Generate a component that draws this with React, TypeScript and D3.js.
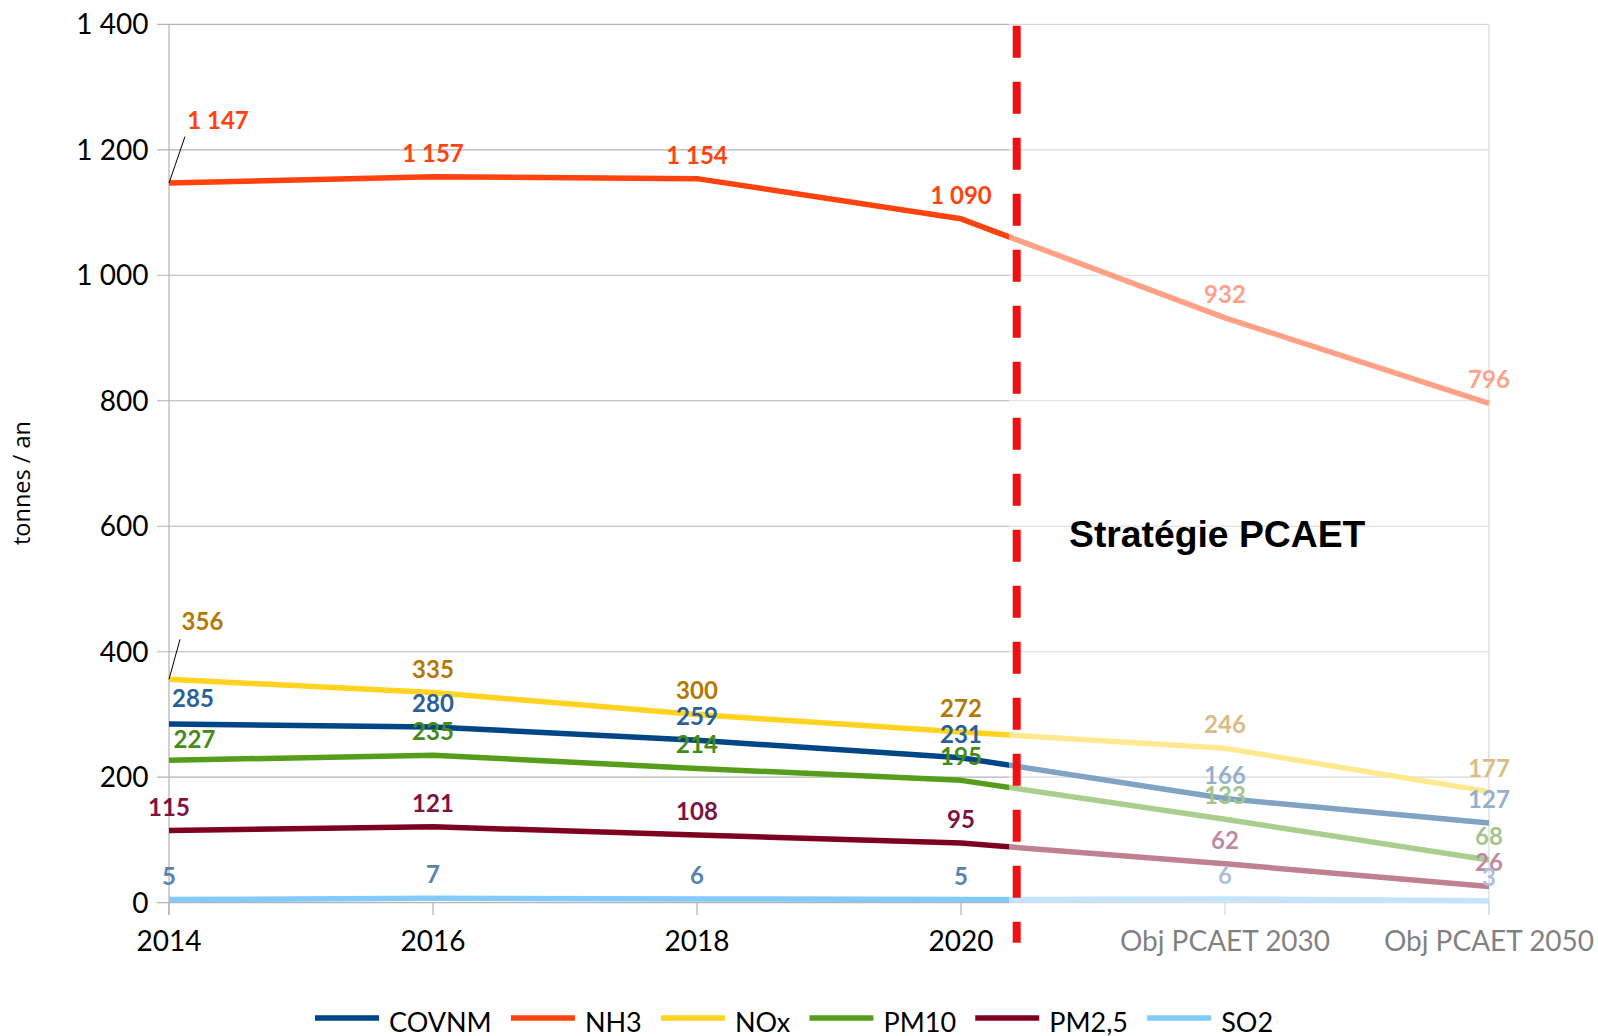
import React from "react";
import * as d3 from "d3";

const categories = ["2014", "2016", "2018", "2020", "Obj PCAET 2030", "Obj PCAET 2050"];
const seriesNames = ["COVNM", "NH3", "NOx", "PM10", "PM2,5", "SO2"];
const covnm = [285, 280, 259, 231, 166, 127];
const nh3 = [1147, 1157, 1154, 1090, 932, 796];
const nox = [356, 335, 300, 272, 246, 177];
const pm10 = [227, 235, 214, 195, 133, 68];
const pm25 = [115, 121, 108, 95, 62, 26];
const so2 = [5, 7, 6, 5, 6, 3];
const yTicks = [0, 200, 400, 600, 800, 1000, 1200, 1400];
const yTitle = "tonnes / an";
const strategyText = "Stratégie PCAET";

const allSeries = [covnm, nh3, nox, pm10, pm25, so2];

const W = 1598;
const H = 1036;
const lineColors = ["#004586", "#ff420e", "#ffd320", "#579d1c", "#7e0021", "#83caff"];
const labelColors = ["#2a6099", "#ff420e", "#b47804", "#468a1a", "#7e1240", "#5983b0"];
const gridColor = "#b3b3b3";
const lato = "Lato, 'Noto Sans', sans-serif";

// label placement adjustments (style, not data)
const labelAdjust: Record<string, { dx: number; dy: number; leader?: [number, number] }> = {
  "1-0": { dx: 49, dy: -54.5, leader: [16, -46.5] },
  "2-0": { dx: 33.5, dy: -49.3, leader: [11, -40] },
  "0-0": { dx: 24, dy: -16.6 },
  "3-0": { dx: 25.5, dy: -12 },
};

const fmt = d3.formatLocale({ decimal: ",", thousands: " ", grouping: [3], currency: ["", ""] }).format(",d");

function measure(text: string, font: string): number {
  const c = document.createElement("canvas").getContext("2d");
  if (!c) return text.length * 14;
  c.font = font;
  return c.measureText(text).width;
}

export default function App() {
  const x = d3.scalePoint<string>().domain(categories).range([169, 1489]);
  const y = d3.scaleLinear().domain([0, 1400]).range([902.7, 24.3]);
  const line = d3
    .line<number>()
    .x((_, i) => x(categories[i]) as number)
    .y((d) => y(d));

  const overlayX = 1009;
  const dashX = 1016.7;

  // legend layout
  const legendFont = `27px Lato`;
  let lx = 315;
  const legendItems = seriesNames.map((name, i) => {
    const item = { name, i, x: lx };
    lx += 64 + 10 + measure(name, legendFont) + 19.2;
    return item;
  });

  return (
    <svg
      width={W}
      height={H}
      style={{ position: "absolute", left: 0, top: 0, background: "#fff" }}
      xmlns="http://www.w3.org/2000/svg"
    >
      <rect x={0} y={0} width={W} height={H} fill="#fff" />
      {/* gridlines */}
      {yTicks.map((t) => (
        <line key={"g" + t} x1={157} x2={1489} y1={y(t)} y2={y(t)} stroke={gridColor} strokeWidth={1.2} />
      ))}
      <line x1={169} x2={169} y1={y(1400)} y2={915} stroke={gridColor} strokeWidth={1.2} />
      <line x1={1489} x2={1489} y1={y(1400)} y2={915} stroke={gridColor} strokeWidth={1.2} />
      {categories.map((c) => (
        <line key={"xt" + c} x1={x(c)} x2={x(c)} y1={y(0)} y2={915} stroke={gridColor} strokeWidth={1.2} />
      ))}
      {/* y tick labels */}
      {yTicks.map((t) => (
        <text key={"yl" + t} x={148.5} y={y(t) + 10} textAnchor="end" fontFamily={lato} fontSize={28} fill="#000">
          {fmt(t)}
        </text>
      ))}
      {/* x tick labels */}
      {categories.map((c) => (
        <text key={"xl" + c} x={x(c)} y={951} textAnchor="middle" fontFamily={lato} fontSize={28} fill="#000">
          {c}
        </text>
      ))}
      {/* y title */}
      <text
        transform={`translate(30,483) rotate(-90)`}
        textAnchor="middle"
        fontFamily="'Open Sans', sans-serif"
        fontSize={23.5}
        fill="#000"
      >
        {yTitle}
      </text>
      {/* lines */}
      {allSeries.map((s, si) => (
        <path
          key={"l" + si}
          d={line(s) || ""}
          fill="none"
          stroke={lineColors[si]}
          strokeWidth={5.5}
          strokeLinejoin="round"
        />
      ))}
      {/* labels */}
      {allSeries.map((s, si) =>
        s.map((v, ci) => {
          const px = x(categories[ci]) as number;
          const py = y(v);
          const adj = labelAdjust[`${si}-${ci}`];
          const dx = adj ? adj.dx : 0;
          const dy = adj ? adj.dy : -15;
          return (
            <g key={`lab${si}-${ci}`}>
              {adj && adj.leader ? (
                <line x1={px} y1={py} x2={px + adj.leader[0]} y2={py + adj.leader[1]} stroke="#000" strokeWidth={1} />
              ) : null}
              <text
                x={px + dx}
                y={py + dy}
                textAnchor="middle"
                fontFamily={lato}
                fontWeight={700}
                fontSize={24}
                fill={labelColors[si]}
              >
                {fmt(v)}
              </text>
            </g>
          );
        })
      )}
      {/* fade overlay for strategy zone */}
      <rect x={overlayX} y={0} width={W - overlayX} height={965} fill="#fff" fillOpacity={0.5} />
      {/* red dashed separator */}
      <line
        x1={dashX}
        x2={dashX}
        y1={25.7}
        y2={942.7}
        stroke="#ee1111"
        strokeWidth={8}
        strokeDasharray="32 24"
      />
      <text
        x={1069}
        y={546.7}
        fontFamily="'Liberation Sans', Arial, sans-serif"
        fontWeight={700}
        fontSize={37.3}
        fill="#000"
      >
        {strategyText}
      </text>
      {/* legend */}
      {legendItems.map((it) => (
        <g key={"lg" + it.name}>
          <line x1={it.x} x2={it.x + 64} y1={1018} y2={1018} stroke={lineColors[it.i]} strokeWidth={5.5} />
          <text x={it.x + 74} y={1031.5} fontFamily={lato} fontSize={27} fill="#000">
            {it.name}
          </text>
        </g>
      ))}
    </svg>
  );
}
